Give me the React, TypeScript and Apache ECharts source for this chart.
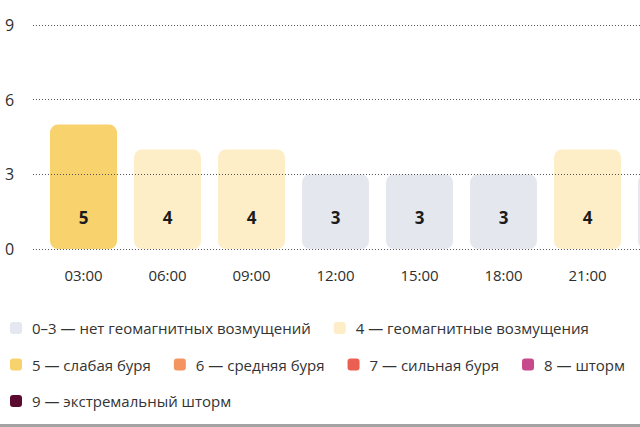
import { useEffect, useRef } from 'react';
import * as echarts from 'echarts';

const times = ['03:00', '06:00', '09:00', '12:00', '15:00', '18:00', '21:00', '00:00'];
const kpValues = [5, 4, 4, 3, 3, 3, 4, 3];
const yTicks = [0, 3, 6, 9];
// the last slot is cut by the right edge, its texts are hidden
const visibleCount = 7;

const levelColors: Record<number, string> = {
  0: '#e5e7ef',
  1: '#e5e7ef',
  2: '#e5e7ef',
  3: '#e5e7ef',
  4: '#fdeec8',
  5: '#f8d26c',
  6: '#f49560',
  7: '#eb5f52',
  8: '#c64a8c',
  9: '#5a0a2e',
};

const legendRows = [
  [
    { name: '0–3 — нет геомагнитных возмущений', color: '#e5e7ef' },
    { name: '4 — геомагнитные возмущения', color: '#fdeec8' },
  ],
  [
    { name: '5 — слабая буря', color: '#f8d26c' },
    { name: '6 — средняя буря', color: '#f49560' },
    { name: '7 — сильная буря', color: '#eb5f52' },
    { name: '8 — шторм', color: '#c64a8c' },
  ],
  [{ name: '9 — экстремальный шторм', color: '#5a0a2e' }],
];

const FONT = '"Open Sans", "Noto Sans", sans-serif';

export default function App() {
  const chartRef = useRef<HTMLDivElement>(null);

  useEffect(() => {
    if (!chartRef.current) return;
    const chart = echarts.init(chartRef.current, undefined, { renderer: 'svg' });

    const legendItems = legendRows.flat();

    const option: echarts.EChartsOption = {
      animation: false,
      backgroundColor: '#ffffff',
      textStyle: { fontFamily: FONT },
      grid: [
        { left: 41.5, top: 25, width: 84 * times.length, height: 224 },
        { left: 33, top: 25, right: 0, height: 224 },
      ],
      xAxis: [
        {
          type: 'category',
          gridIndex: 0,
          data: times,
          axisLine: { show: false },
          axisTick: { show: false },
          axisLabel: {
            color: '#2e2e2e',
            fontSize: 15,
            margin: 18,
            fontFamily: FONT,
            interval: (idx: number) => idx < visibleCount,
          },
        },
        { type: 'value', gridIndex: 1, show: false },
      ],
      yAxis: [
        { type: 'value', gridIndex: 0, min: 0, max: 9, show: false },
        {
          type: 'value',
          gridIndex: 1,
          min: yTicks[0],
          max: yTicks[yTicks.length - 1],
          interval: 3,
          z: 10,
          axisLine: { show: false },
          axisTick: { show: false },
          axisLabel: {
            color: '#2e2e2e',
            fontSize: 16,
            align: 'left',
            margin: 28,
            fontFamily: FONT,
          },
          splitLine: { lineStyle: { color: '#555', type: [1, 2], width: 1 } },
        },
      ],
      legend: legendRows.map((row, i) => ({
        left: 5,
        top: 314 + i * 36.5,
        orient: 'horizontal',
        icon: 'roundRect',
        itemWidth: 12,
        itemHeight: 12,
        itemGap: 23,
        selectedMode: false,
        data: row.map((r) => r.name),
        textStyle: {
          color: '#333',
          fontSize: 15,
          lineHeight: 18,
          fontFamily: FONT,
          padding: [0, 0, 0, 5],
        },
      })),
      series: [
        {
          name: 'Kp',
          type: 'bar',
          xAxisIndex: 0,
          yAxisIndex: 0,
          barWidth: 67,
          data: kpValues.map((v, i) => ({
            value: v,
            itemStyle: { color: levelColors[v], borderRadius: 8 },
            label: { show: i < visibleCount },
          })),
          label: {
            show: true,
            position: 'insideBottom',
            distance: 23,
            color: '#1b1b1b',
            fontSize: 17,
            fontWeight: 'bold',
            fontFamily: FONT,
          },
        },
        ...legendItems.map((item) => ({
          name: item.name,
          type: 'scatter' as const,
          xAxisIndex: 1,
          yAxisIndex: 1,
          data: [],
          itemStyle: { color: item.color, opacity: 1 },
        })),
      ],
      graphic: [
        {
          type: 'rect',
          left: 0,
          top: 424,
          shape: { width: 640, height: 3 },
          style: { fill: '#a3a3a3' },
        },
      ],
    };

    chart.setOption(option);
    return () => {
      chart.dispose();
    };
  }, []);

  return (
    <div
      style={{
        position: 'fixed',
        left: 0,
        top: 0,
        width: 640,
        height: 427,
        overflow: 'hidden',
        background: '#fff',
      }}
    >
      <div ref={chartRef} style={{ width: 720, height: 427 }} />
    </div>
  );
}
